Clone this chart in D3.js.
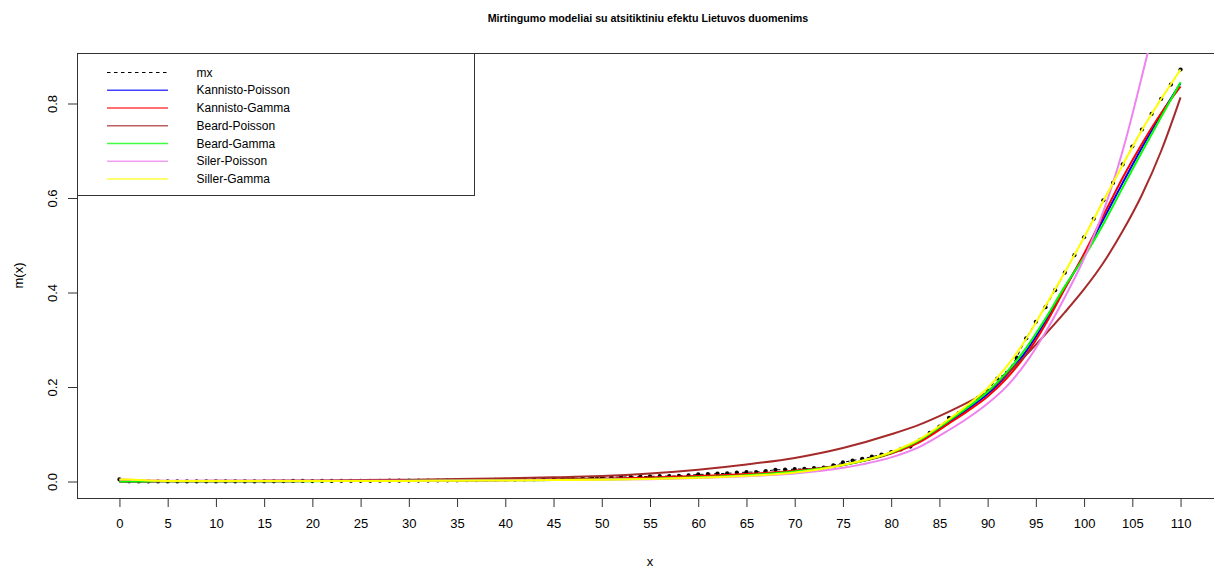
<!DOCTYPE html>
<html>
<head>
<meta charset="utf-8">
<script src="https://cdn.jsdelivr.net/npm/d3@7"></script>
<style>
  html, body { margin: 0; padding: 0; background: #ffffff; }
  svg { display: block; font-family: "Liberation Sans", Arial, sans-serif; }
</style>
</head>
<body>
<svg id="chart" width="1214" height="568"></svg>
<script>
// Observed central death rates m(x) by single year of age
const mxAges = d3.range(0, 111);
const mxValues = [
  0.0045, 0.0004, 0.0003, 0.0002, 0.0002, 0.0002, 0.0002, 0.0002, 0.0002, 0.0002,
  0.0002, 0.0002, 0.0002, 0.0003, 0.0003, 0.0004, 0.0005, 0.0006, 0.0012, 0.0013,
  0.0010, 0.0013, 0.0013, 0.0014, 0.0014, 0.0015, 0.0015, 0.0016, 0.0017, 0.0018,
  0.0019, 0.0020, 0.0021, 0.0022, 0.0024, 0.0026, 0.0028, 0.0030, 0.0032, 0.0035,
  0.0037, 0.0040, 0.0043, 0.0046, 0.0050, 0.0055, 0.0060, 0.0066, 0.0072, 0.0080,
  0.0088, 0.0092, 0.0095, 0.0097, 0.0102, 0.0110, 0.0113, 0.0115, 0.0120, 0.0130,
  0.0150, 0.0155, 0.0168, 0.0172, 0.0188, 0.0198, 0.0200, 0.0222, 0.0248, 0.0250,
  0.0262, 0.0268, 0.0282, 0.0295, 0.0340, 0.0405, 0.0445, 0.0480, 0.0525, 0.0570,
  0.0620, 0.0680, 0.0740, 0.0880, 0.1030, 0.1160, 0.1350, 0.1450, 0.1560, 0.1770,
  0.1920, 0.2180, 0.2300, 0.2620, 0.3030, 0.3380, 0.3690, 0.4050, 0.4420, 0.4790,
  0.5170, 0.5560, 0.5950, 0.6320, 0.6710, 0.7090, 0.7450, 0.7780, 0.8100, 0.8400,
  0.8720
];

// Fitted model curves, evaluated at these ages
const modelAges = [0, 1, 3, 5, 10, 15, 20, 25, 30, 35, 40, 45, 50, 55, 60, 65, 70, 75,
  80, 83, 86, 88, 90, 92, 94, 96, 98, 100, 102, 104, 106, 108, 110];

const kannistoPoisson = [0.0003, 0.0003, 0.0003, 0.0004, 0.0005, 0.0007, 0.0009, 0.0012, 0.0016, 0.0022,
  0.0030, 0.0040, 0.0055, 0.0075, 0.0105, 0.0150, 0.0220, 0.0350,
  0.0600, 0.0860, 0.1260, 0.1540, 0.1850, 0.2260, 0.2760, 0.3390, 0.4100, 0.4790, 0.5550, 0.6320, 0.7070, 0.7780, 0.8430];
const kannistoGamma = [0.0003, 0.0003, 0.0003, 0.0004, 0.0005, 0.0007, 0.0009, 0.0012, 0.0017, 0.0023,
  0.0031, 0.0043, 0.0060, 0.0085, 0.0115, 0.0160, 0.0230, 0.0350,
  0.0590, 0.0840, 0.1230, 0.1500, 0.1800, 0.2190, 0.2690, 0.3330, 0.4080, 0.4820, 0.5630, 0.6430, 0.7150, 0.7800, 0.8360];
const beardPoisson = [0.0008, 0.0009, 0.0010, 0.0012, 0.0015, 0.0019, 0.0024, 0.0031, 0.0040, 0.0052,
  0.0068, 0.0088, 0.0116, 0.0170, 0.0250, 0.0360, 0.0500, 0.0710,
  0.1000, 0.1210, 0.1480, 0.1680, 0.1900, 0.2280, 0.2680, 0.3120, 0.3580, 0.4070, 0.4630, 0.5300, 0.6070, 0.7000, 0.8130];
const beardGamma = [0.0001, 0.0002, 0.0003, 0.0004, 0.0005, 0.0006, 0.0008, 0.0011, 0.0014, 0.0019,
  0.0025, 0.0033, 0.0045, 0.0060, 0.0090, 0.0135, 0.0210, 0.0350,
  0.0610, 0.0880, 0.1290, 0.1580, 0.1900, 0.2320, 0.2830, 0.3450, 0.4130, 0.4750, 0.5450, 0.6220, 0.6980, 0.7720, 0.8450];
const silerPoisson = [0.0045, 0.0040, 0.0025, 0.0018, 0.0015, 0.0014, 0.0014, 0.0015, 0.0017, 0.0020,
  0.0024, 0.0030, 0.0040, 0.0050, 0.0075, 0.0110, 0.0170, 0.0290,
  0.0510, 0.0740, 0.1090, 0.1350, 0.1650, 0.2020, 0.2520, 0.3160, 0.3900, 0.4720, 0.5720, 0.7000, 0.8580, 1.0300, 1.2200];
const sillerGamma = [0.0045, 0.0042, 0.0020, 0.0012, 0.0009, 0.0009, 0.0010, 0.0011, 0.0013, 0.0017,
  0.0022, 0.0030, 0.0040, 0.0055, 0.0080, 0.0120, 0.0190, 0.0350,
  0.0620, 0.0900, 0.1320, 0.1630, 0.1980, 0.2440, 0.3020, 0.3720, 0.4430, 0.5170, 0.5940, 0.6700, 0.7440, 0.8100, 0.8720];

const seriesNames = ["Kannisto-Poisson", "Kannisto-Gamma", "Beard-Poisson", "Beard-Gamma", "Siler-Poisson", "Siller-Gamma"];
const seriesValues = [kannistoPoisson, kannistoGamma, beardPoisson, beardGamma, silerPoisson, sillerGamma];
const seriesColors = ["#0000ff", "#ff0000", "#a52a2a", "#00ff00", "#ee82ee", "#ffff00"];

const xTicks = d3.range(0, 111, 5);
const yTicks = [0, 0.2, 0.4, 0.6, 0.8];

const titleText = "Mirtingumo modeliai su atsitiktiniu efektu Lietuvos duomenims";
const xLabel = "x";
const yLabel = "m(x)";

// Plot region (axis limits padded by 4% like base graphics)
const plot = { left: 77, right: 1223, top: 53, bottom: 498 };
const xMax = d3.max(mxAges), yMax = d3.max(mxValues);
const x = d3.scaleLinear().domain([-0.04 * xMax, xMax * 1.04]).range([plot.left, plot.right]);
const y = d3.scaleLinear().domain([-0.04 * yMax, yMax * 1.04]).range([plot.bottom, plot.top]);

const svg = d3.select("#chart");

svg.append("defs").append("clipPath").attr("id", "plotClip")
  .append("rect")
  .attr("x", plot.left).attr("y", plot.top)
  .attr("width", plot.right - plot.left).attr("height", plot.bottom - plot.top);

// Title
svg.append("text")
  .attr("x", (plot.left + plot.right) / 2 - 2).attr("y", 18)
  .attr("text-anchor", "middle").attr("dominant-baseline", "central")
  .attr("font-size", 10.7).attr("font-weight", "bold").attr("fill", "#000")
  .text(titleText);

// Axes
const xAxis = d3.axisBottom(x).tickValues(xTicks).tickSize(9).tickPadding(12).tickFormat(d3.format("d"));
const gx = svg.append("g").attr("transform", `translate(0,${plot.bottom})`).call(xAxis);
gx.select(".domain").remove();
gx.selectAll(".tick line").attr("stroke", "#333");
gx.selectAll(".tick text").attr("font-size", 13).attr("fill", "#000")
  .attr("font-family", "Liberation Sans, Arial, sans-serif");

const yAxis = d3.axisLeft(y).tickValues(yTicks).tickSize(9).tickFormat(d3.format(".1f"));
const gy = svg.append("g").attr("transform", `translate(${plot.left},0)`).call(yAxis);
gy.select(".domain").remove();
gy.selectAll(".tick line").attr("stroke", "#333");
gy.selectAll(".tick text")
  .attr("font-size", 13).attr("fill", "#000")
  .attr("font-family", "Liberation Sans, Arial, sans-serif")
  .attr("x", null).attr("dy", null)
  .attr("text-anchor", "middle").attr("dominant-baseline", "central")
  .attr("transform", "translate(-25,0) rotate(-90)");

// Axis titles
svg.append("text")
  .attr("x", (plot.left + plot.right) / 2).attr("y", 561)
  .attr("text-anchor", "middle").attr("dominant-baseline", "central")
  .attr("font-size", 13).attr("fill", "#000").text(xLabel);
svg.append("text")
  .attr("transform", `translate(18,${(plot.top + plot.bottom) / 2}) rotate(-90)`)
  .attr("text-anchor", "middle").attr("dominant-baseline", "central")
  .attr("font-size", 13).attr("fill", "#000").text(yLabel);

// Plot box
svg.append("rect")
  .attr("x", plot.left + 0.5).attr("y", plot.top + 0.5)
  .attr("width", plot.right - plot.left).attr("height", plot.bottom - plot.top)
  .attr("fill", "none").attr("stroke", "#333").attr("stroke-width", 1);

const area = svg.append("g").attr("clip-path", "url(#plotClip)");

// Observed rates: dashed line with points
const mxLine = d3.line().x((d, i) => x(mxAges[i])).y(d => y(d));
area.append("path")
  .datum(mxValues)
  .attr("d", mxLine)
  .attr("fill", "none").attr("stroke", "#000").attr("stroke-width", 1)
  .attr("stroke-dasharray", "3.5,3.5");
area.selectAll("circle.mx")
  .data(mxValues)
  .join("circle")
  .attr("class", "mx")
  .attr("cx", (d, i) => x(mxAges[i])).attr("cy", d => y(d))
  .attr("r", 2.1).attr("fill", "#000");

// Model curves
const modelLine = d3.line()
  .x((d, i) => x(modelAges[i])).y(d => y(d))
  .curve(d3.curveMonotoneX);
seriesValues.forEach((vals, k) => {
  area.append("path")
    .datum(vals)
    .attr("d", modelLine)
    .attr("fill", "none")
    .attr("stroke", seriesColors[k])
    .attr("stroke-width", 2)
    .attr("stroke-linejoin", "round");
});

// Legend
const legend = svg.append("g");
legend.append("rect")
  .attr("x", plot.left + 0.5).attr("y", plot.top + 0.5)
  .attr("width", 474 - plot.left).attr("height", 195 - plot.top)
  .attr("fill", "#fff").attr("stroke", "#333").attr("stroke-width", 1);

const legendLabels = ["mx"].concat(seriesNames);
const legendColors = ["#000"].concat(seriesColors);
const legendRowY = d3.scaleLinear().domain([0, 6]).range([72.5, 179]);
legendLabels.forEach((lab, i) => {
  const yy = legendRowY(i);
  legend.append("line")
    .attr("x1", 107).attr("x2", 168)
    .attr("y1", yy).attr("y2", yy)
    .attr("stroke", legendColors[i])
    .attr("stroke-width", i === 0 ? 1 : 1.4)
    .attr("stroke-opacity", i === 0 ? 1 : 0.75)
    .attr("stroke-dasharray", i === 0 ? "3.5,3.5" : null);
  legend.append("text")
    .attr("x", 196.5).attr("y", yy)
    .attr("dominant-baseline", "central")
    .attr("font-size", 12).attr("fill", "#000")
    .text(lab);
});
</script>
</body>
</html>
